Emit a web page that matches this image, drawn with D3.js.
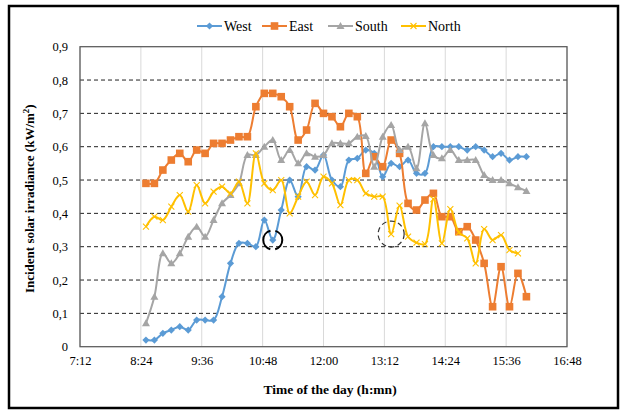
<!DOCTYPE html>
<html>
<head>
<meta charset="utf-8">
<script src="https://cdn.jsdelivr.net/npm/d3@7"></script>
<style>
  html, body { margin: 0; padding: 0; background: #fff; }
  svg { display: block; }
  svg text { font-family: "Liberation Serif", "Times New Roman", "DejaVu Serif", serif; fill: #000; }
</style>
</head>
<body>
<svg id="chart" width="624" height="414" font-family="Liberation Serif, Times New Roman, serif"></svg>
<script>
// Measurement times (10-minute steps)
const times = ["8:30","8:40","8:50","9:00","9:10","9:20","9:30","9:40","9:50","10:00",
  "10:10","10:20","10:30","10:40","10:50","11:00","11:10","11:20","11:30","11:40",
  "11:50","12:00","12:10","12:20","12:30","12:40","12:50","13:00","13:10","13:20",
  "13:30","13:40","13:50","14:00","14:10","14:20","14:30","14:40","14:50","15:00",
  "15:10","15:20","15:30","15:40","15:50","16:00"];

// Incident solar irradiance per facade orientation (kW/m²)
const west = [0.02,0.02,0.04,0.05,0.06,0.05,0.08,0.08,0.08,0.15,
  0.25,0.31,0.31,0.30,0.38,0.32,0.41,0.50,0.45,0.54,
  0.53,0.575,0.50,0.48,0.56,0.565,0.59,0.58,0.51,0.55,
  0.54,0.56,0.52,0.52,0.60,0.60,0.60,0.60,0.59,0.60,
  0.59,0.57,0.58,0.56,0.57,0.57];
const east = [0.49,0.49,0.53,0.56,0.58,0.555,0.59,0.58,0.61,0.61,
  0.62,0.63,0.63,0.72,0.76,0.76,0.75,0.72,0.62,0.65,
  0.73,0.70,0.69,0.66,0.70,0.69,0.52,0.57,0.54,0.62,
  0.58,0.43,0.41,0.44,0.46,0.39,0.39,0.345,0.36,0.32,
  0.25,0.12,0.24,0.12,0.22,0.15];
const south = [0.07,0.15,0.28,0.25,0.28,0.33,0.36,0.33,0.38,0.43,
  0.455,0.49,0.575,0.575,0.60,0.62,0.56,0.59,0.55,0.58,
  0.57,0.575,0.61,0.61,0.61,0.63,0.632,0.54,0.63,0.665,
  0.59,0.60,0.535,0.67,0.575,0.565,0.59,0.56,0.56,0.56,
  0.515,0.50,0.50,0.49,0.478,0.467];
const north = [0.36,0.39,0.38,0.42,0.455,0.405,0.485,0.43,0.465,0.48,
  0.46,0.495,0.43,0.58,0.49,0.47,0.50,0.40,0.45,0.495,
  0.455,0.51,0.49,0.425,0.50,0.50,0.46,0.45,0.45,0.338,
  0.423,0.33,0.312,0.308,0.443,0.31,0.413,0.343,0.325,0.25,
  0.353,0.32,0.335,0.29,0.28];

const seriesNames = ["West", "East", "South", "North"];
const xTickLabels = ["7:12","8:24","9:36","10:48","12:00","13:12","14:24","15:36","16:48"];
const yTickValues = [0,0.1,0.2,0.3,0.4,0.5,0.6,0.7,0.8,0.9];

// Highlighted readings: [series, time]
const highlights = [["West", "11:00"], ["North", "13:20"]];

const toMin = s => { const [h, m] = s.split(":").map(Number); return h * 60 + m; };

const series = [
  { name: "West",  values: west,  color: "#5B9BD5", marker: "diamond" },
  { name: "East",  values: east,  color: "#ED7D31", marker: "square" },
  { name: "South", values: south, color: "#A5A5A5", marker: "triangle" },
  { name: "North", values: north, color: "#FFC000", marker: "cross" }
];

const FONT = "Liberation Serif, Times New Roman, serif";
const svg = d3.select("#chart");
const plot = { left: 80, right: 567, top: 46.7, bottom: 346.7 };

const x = d3.scaleLinear()
  .domain([toMin(xTickLabels[0]), toMin(xTickLabels[xTickLabels.length - 1])])
  .range([plot.left, plot.right]);
const y = d3.scaleLinear().domain([0, 0.9]).range([plot.bottom, plot.top]);

// Outer frame
svg.append("rect")
  .attr("x", 9).attr("y", 6).attr("width", 609).attr("height", 402)
  .attr("fill", "none").attr("stroke", "#000").attr("stroke-width", 2.5);

// Vertical gridlines
svg.append("g")
  .selectAll("line").data(xTickLabels).join("line")
  .attr("x1", d => x(toMin(d))).attr("x2", d => x(toMin(d)))
  .attr("y1", plot.top).attr("y2", plot.bottom)
  .attr("stroke", "#d9d9d9").attr("stroke-width", 1);

// Horizontal dashed gridlines
svg.append("g")
  .selectAll("line").data(yTickValues.filter(v => v > 0 && v < 0.9)).join("line")
  .attr("x1", plot.left).attr("x2", plot.right)
  .attr("y1", d => y(d)).attr("y2", d => y(d))
  .attr("stroke", "#222").attr("stroke-width", 1).attr("stroke-dasharray", "4,3");

// Plot area border
svg.append("rect")
  .attr("x", plot.left).attr("y", plot.top)
  .attr("width", plot.right - plot.left).attr("height", plot.bottom - plot.top)
  .attr("fill", "none").attr("stroke", "#595959").attr("stroke-width", 1.25);

// Axes
const xAxis = d3.axisBottom(x)
  .tickValues(xTickLabels.map(toMin))
  .tickFormat(m => Math.floor(m / 60) + ":" + String(m % 60).padStart(2, "0"))
  .tickSize(0).tickPadding(9);
const gx = svg.append("g").attr("transform", `translate(0,${plot.bottom})`).call(xAxis)
  .attr("font-family", FONT);
gx.select(".domain").remove();
gx.selectAll("text").attr("font-size", 12.5);

const yAxis = d3.axisLeft(y)
  .tickValues(yTickValues)
  .tickFormat(v => v === 0 ? "0" : d3.format(".1f")(v).replace(".", ","))
  .tickSize(0).tickPadding(12);
const gy = svg.append("g").attr("transform", `translate(${plot.left},0)`).call(yAxis)
  .attr("font-family", FONT);
gy.select(".domain").remove();
gy.selectAll("text").attr("font-size", 12.5);

// Axis titles
svg.append("text")
  .attr("x", 330).attr("y", 394)
  .attr("text-anchor", "middle").attr("font-size", 13.5).attr("font-weight", "bold")
  .text("Time of the day (h:mn)");

const yt = svg.append("text")
  .attr("transform", `translate(34,${(plot.top + plot.bottom) / 2 + 2}) rotate(-90)`)
  .attr("text-anchor", "middle").attr("font-size", 13).attr("font-weight", "bold");
yt.append("tspan").text("Incident solar irradiance (kW/m");
yt.append("tspan").attr("dy", -5).attr("font-size", 9).text("2");
yt.append("tspan").attr("dy", 5).text(")");

// Marker drawing
function drawMarker(g, type, color) {
  if (type === "diamond") {
    g.append("path").attr("d", "M0,-3.6L3.6,0L0,3.6L-3.6,0Z").attr("fill", color);
  } else if (type === "square") {
    g.append("rect").attr("x", -3.8).attr("y", -3.8).attr("width", 7.6).attr("height", 7.6).attr("fill", color);
  } else if (type === "triangle") {
    g.append("path").attr("d", "M0,-4L4,3L-4,3Z").attr("fill", color);
  } else {
    g.append("path").attr("d", "M-3,-3L3,3M-3,3L3,-3").attr("stroke", color).attr("stroke-width", 1.1).attr("fill", "none");
  }
}

const line = d3.line()
  .x(d => x(d.t)).y(d => y(d.v))
  .curve(d3.curveCatmullRom.alpha(0.5));

series.forEach(s => {
  const pts = s.values.map((v, i) => ({ t: toMin(times[i]), v }));
  const g = svg.append("g");
  g.append("path").datum(pts).attr("d", line)
    .attr("fill", "none").attr("stroke", s.color).attr("stroke-width", 2);
  g.selectAll("g.m").data(pts).join("g").attr("class", "m")
    .attr("transform", d => `translate(${x(d.t)},${y(d.v)})`)
    .each(function () { drawMarker(d3.select(this), s.marker, s.color); });
});

// Highlight circles around notable readings
const hl = svg.append("g");
highlights.forEach(([name, t], k) => {
  const s = series.find(d => d.name === name);
  const v = s.values[times.indexOf(t)];
  const c = hl.append("circle")
    .attr("cx", x(toMin(t))).attr("cy", y(v))
    .attr("fill", "none");
  if (k === 0) {
    // bold bracket-style ring, open at top and bottom
    c.attr("r", 9.5).attr("stroke", "#000").attr("stroke-width", 2)
      .attr("stroke-dasharray", "24.8,5").attr("stroke-dashoffset", 12.45);
  } else {
    c.attr("r", 13).attr("stroke", "#333").attr("stroke-width", 1.2)
      .attr("stroke-dasharray", "5,3.5");
  }
});

// Legend
const legendX = [197, 262, 328, 401];
const lg = svg.append("g").attr("transform", "translate(0,26)");
series.forEach((s, i) => {
  const g = lg.append("g").attr("transform", `translate(${legendX[i]},0)`);
  g.append("line").attr("x1", 0).attr("x2", 25).attr("y1", 0).attr("y2", 0)
    .attr("stroke", s.color).attr("stroke-width", 2);
  const m = g.append("g").attr("transform", "translate(12.5,0)");
  drawMarker(m, s.marker, s.color);
  g.append("text").attr("x", 27).attr("y", 4.5).attr("font-size", 14).text(seriesNames[i]);
});
</script>
</body>
</html>
